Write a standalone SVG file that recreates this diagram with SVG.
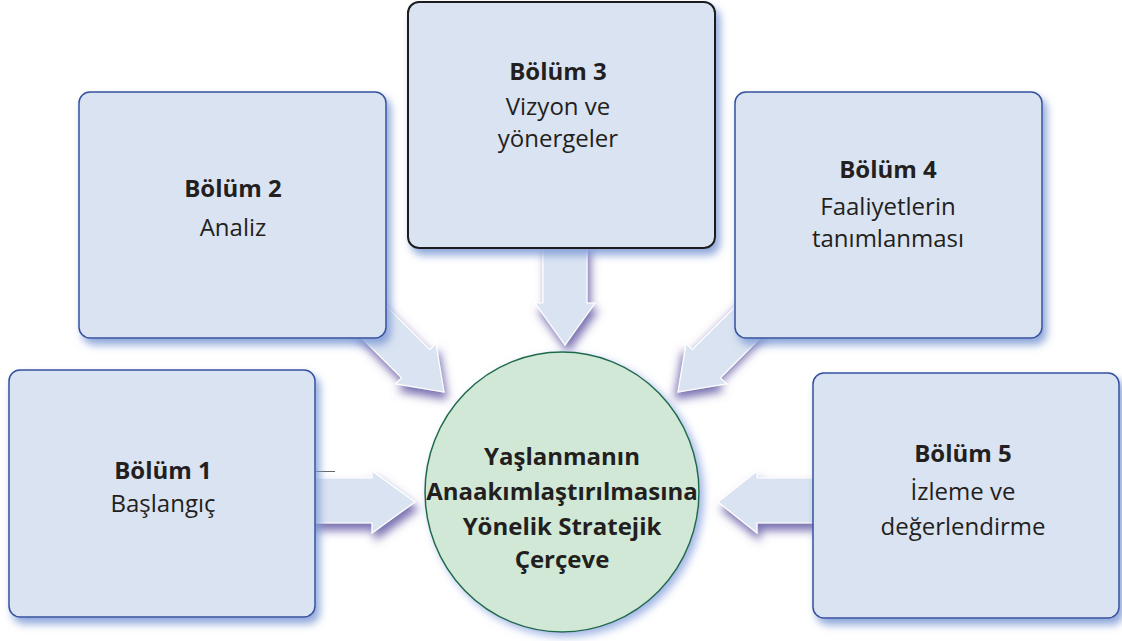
<svg xmlns="http://www.w3.org/2000/svg" width="1122" height="641" viewBox="0 0 1122 641">
<defs>
<filter id="boxShadow" x="-10%" y="-10%" width="125%" height="125%">
<feDropShadow dx="4" dy="6" stdDeviation="4" flood-color="#7f9bd6" flood-opacity="0.9"/>
</filter>
<filter id="arrowShadow" x="-30%" y="-30%" width="170%" height="170%">
<feDropShadow dx="3" dy="7" stdDeviation="5" flood-color="#6a60a8" flood-opacity="0.9"/>
</filter>
<filter id="circleShadow" x="-10%" y="-10%" width="125%" height="125%">
<feDropShadow dx="4" dy="4" stdDeviation="4" flood-color="#8fa8e0" flood-opacity="0.85"/>
</filter>
</defs>
<style>
.box{fill:#dae3f1;stroke:#34509e;stroke-width:1.5;filter:url(#boxShadow)}
.box3{fill:#dae3f1;stroke:#1c1c1c;stroke-width:2;filter:url(#boxShadow)}
.arrow{fill:#dae3f1;stroke:#ffffff;stroke-width:1.2;filter:url(#arrowShadow)}
.hub{fill:#d0e8d5;stroke:#1e6b4a;stroke-width:1.5;filter:url(#circleShadow)}
text{font-family:"Open Sans","Liberation Sans",sans-serif;fill:#231f20;text-anchor:middle;font-size:24px}
.b{font-weight:bold}
</style>
<rect width="1122" height="641" fill="#ffffff"/>
<g id="connectors">
<path class="arrow" d="M300,478 L372,478 L372,471 L415,502 L372,533 L372,523 L300,523 Z"/>
<path class="arrow" d="M830,478 L757,478 L757,471 L718,502 L757,533 L757,523 L830,523 Z"/>
<path class="arrow" d="M543,240 L587,240 L587,303 L595,303 L565,345 L535,303 L543,303 Z"/>
<path class="arrow" d="M344.9,264.8 L429.8,349.6 L435.9,343.5 L444,392 L395.5,383.9 L401.6,377.8 L316.7,293 Z"/>
<path class="arrow" transform="matrix(-1 0 0 1 1122 0)" d="M344.9,264.8 L429.8,349.6 L435.9,343.5 L444,392 L395.5,383.9 L401.6,377.8 L316.7,293 Z"/>
<line x1="315" y1="471.5" x2="335" y2="471.5" stroke="#666666" stroke-width="1"/>
</g>
<g id="bolum1">
<rect class="box" x="9" y="370" width="306" height="247" rx="11"/>
<text class="b" x="163" y="479">Bölüm 1</text>
<text x="163" y="512">Başlangıç</text>
</g>
<g id="bolum2">
<rect class="box" x="79" y="92" width="307" height="246" rx="11"/>
<text class="b" x="233" y="197">Bölüm 2</text>
<text x="233" y="236">Analiz</text>
</g>
<g id="bolum3">
<rect class="box3" x="408" y="2" width="307" height="246" rx="11"/>
<text class="b" x="558" y="80">Bölüm 3</text>
<text x="558" y="115">Vizyon ve</text>
<text x="558" y="147">yönergeler</text>
</g>
<g id="bolum4">
<rect class="box" x="735" y="92" width="307" height="246" rx="11"/>
<text class="b" x="888" y="178">Bölüm 4</text>
<text x="888" y="215">Faaliyetlerin</text>
<text x="888" y="247">tanımlanması</text>
</g>
<g id="bolum5">
<rect class="box" x="813" y="373" width="306" height="245" rx="11"/>
<text class="b" x="963" y="462">Bölüm 5</text>
<text x="963" y="500">İzleme ve</text>
<text x="963" y="535">değerlendirme</text>
</g>
<g id="hub">
<ellipse class="hub" cx="562" cy="492" rx="137" ry="140"/>
<text class="b" x="562" y="465">Yaşlanmanın</text>
<text class="b" x="562" y="500">Anaakımlaştırılmasına</text>
<text class="b" x="562" y="535">Yönelik Stratejik</text>
<text class="b" x="562" y="568">Çerçeve</text>
</g>
</svg>
